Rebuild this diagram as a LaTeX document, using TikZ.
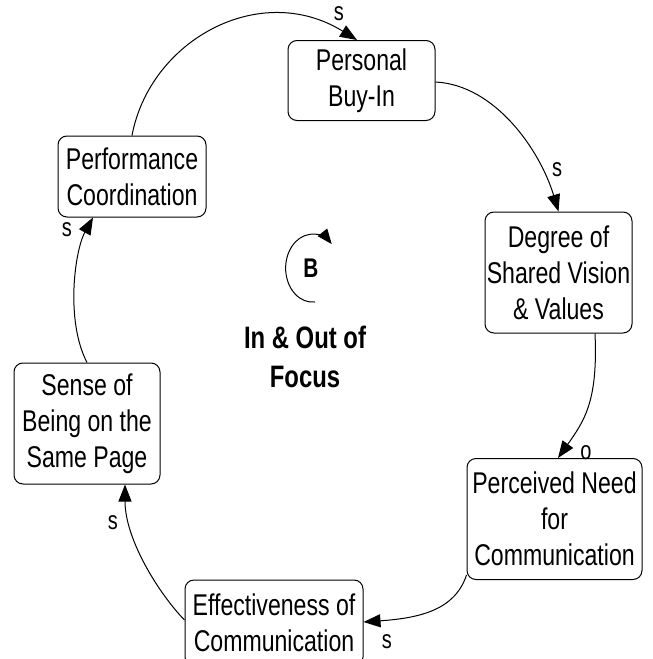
\documentclass[tikz,border=0pt]{standalone}
\usepackage{fontspec}
\setmainfont[FakeStretch=0.77]{Liberation Sans}
\usetikzlibrary{arrows.meta}
\begin{document}
\begin{tikzpicture}[x=1pt,y=1pt,
  cbox/.style={draw, line width=1pt, rounded corners=9pt, align=center, inner sep=0pt,
    font=\fontsize{30}{36}\selectfont},
  link/.style={line width=1pt, -{Triangle[length=17pt,width=13pt]}},
  pol/.style={font=\fontsize{26}{26}\selectfont, inner sep=0pt}]
\useasboundingbox (0,0) rectangle (653,-659);
\node[cbox, minimum width=147pt, minimum height=80pt] (buyin) at (361.5,-80.5) {Personal\\Buy-In};
\node[cbox, minimum width=147pt, minimum height=121pt] (degree) at (558.5,-272.5) {Degree of\\Shared Vision\\\& Values};
\node[cbox, minimum width=175pt, minimum height=121pt] (perc) at (554.5,-519) {Perceived Need\\for\\Communication};
\node[cbox, minimum width=178pt, minimum height=86pt] (eff) at (274,-623) {Effectiveness of\\Communication};
\node[cbox, minimum width=146pt, minimum height=121pt] (sense) at (87,-423.5) {Sense of\\Being on the\\Same Page};
\node[cbox, minimum width=148pt, minimum height=81pt] (perf) at (132,-176.5) {Performance\\Coordination};

\draw[link] (perf.north) .. controls (150,-40) and (260,20) .. ([xshift=-4.5pt]buyin.north);
\draw[link] ([yshift=-1.5pt]buyin.east) .. controls (495,-85) and (540,-150) .. (degree.north);
\draw[link] ([xshift=36.5pt]degree.south) .. controls (598,-400) and (585,-420) .. ([xshift=3.5pt]perc.north);
\draw[link] ([yshift=5pt]perc.south west) .. controls (455,-610) and (420,-618) .. ([yshift=1pt]eff.east);
\draw[link] ([yshift=3pt]eff.west) .. controls (160,-595) and (125,-540) .. ([xshift=38pt]sense.south);
\draw[link] (sense.north) .. controls (65,-320) and (75,-250) .. ([xshift=-39pt]perf.south);

\node[pol] (l1) at (339,-14) {s};
\node[pol] (l2) at (557,-170) {s};
\node[pol] (l3) at (586,-453) {o};
\node[pol] (l4) at (387,-642) {s};
\node[pol] (l5) at (113,-523) {s};
\node[pol] (l6) at (67,-230) {s};

\node[font=\bfseries\fontsize{27}{27}\selectfont, inner sep=0pt] (B) at (311,-268) {B};
\draw[line width=1pt, -{Triangle[length=15pt,width=12pt]}] (315,-302) arc[start angle=-85, end angle=-315, x radius=27, y radius=34];
\node[font=\bfseries\fontsize{31}{39}\selectfont, align=center, inner sep=0pt] (title) at (305,-357) {In \& Out of\\Focus};
\end{tikzpicture}
\end{document}
